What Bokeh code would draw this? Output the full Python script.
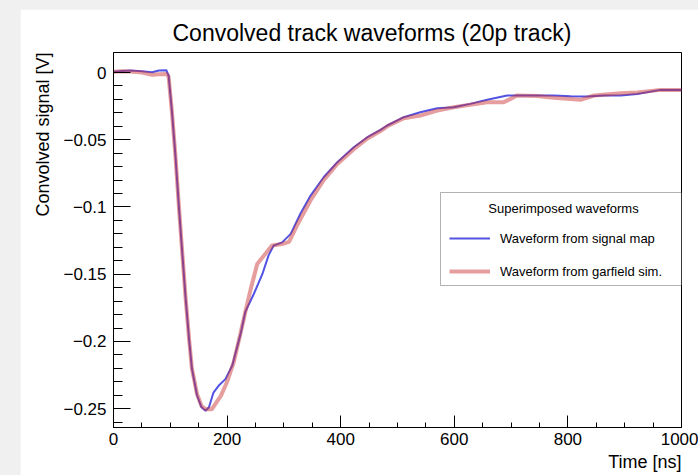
import math
from bokeh.plotting import figure
from bokeh.models import (Range1d, FixedTicker, Legend, LegendItem, Label, BoxAnnotation, Title)
from bokeh.layouts import column
from bokeh.embed import file_html
from bokeh.resources import INLINE

# ---------------- data ----------------
t_map = [0, 15, 30, 50, 68, 80, 93, 97, 103, 109, 115, 121, 127, 133, 138, 147, 155, 162,
         168, 176, 185, 197, 209, 224, 232, 247, 262, 273, 282, 297, 312, 329, 347, 370,
         394, 423, 447, 470, 482, 511, 540, 570, 599, 628, 658, 693, 716, 746, 775, 805,
         834, 863, 893, 922, 963, 1000]
v_map = [0.0005, 0.0012, 0.0015, 0.0010, 0.0002, 0.0015, 0.0017, -0.0022, -0.0295, -0.0618,
         -0.099, -0.1337, -0.168, -0.198, -0.220, -0.240, -0.249, -0.2515, -0.249, -0.238,
         -0.233, -0.228, -0.218, -0.194, -0.178, -0.1647, -0.150, -0.136, -0.1287, -0.1263,
         -0.120, -0.105, -0.0915, -0.0779, -0.0667, -0.0556, -0.0481, -0.0427, -0.0394,
         -0.0332, -0.0295, -0.0265, -0.0258, -0.0233, -0.0203, -0.0171, -0.0171, -0.0171,
         -0.0171, -0.0176, -0.0179, -0.0171, -0.0171, -0.0159, -0.0129, -0.0129]

t_garf = [0, 15, 30, 50, 68, 80, 93, 97, 103, 109, 115, 121, 127, 133, 138, 147, 155, 163,
          173, 180, 189, 200, 212, 223, 230, 241, 253, 265, 279, 297, 309, 323, 347, 370,
          394, 423, 447, 470, 482, 511, 540, 570, 599, 628, 658, 687, 699, 710, 746, 775,
          805, 822, 846, 893, 922, 963, 1000]
v_garf = [0.0005, 0.0010, 0.0008, 0.0000, -0.0017, -0.0012, -0.0010, -0.0030, -0.030, -0.062,
          -0.099, -0.1337, -0.168, -0.198, -0.220, -0.239, -0.248, -0.2505, -0.2505, -0.246,
          -0.2405, -0.2300, -0.2150, -0.195, -0.182, -0.162, -0.1424, -0.136, -0.1287,
          -0.1275, -0.126, -0.1138, -0.095, -0.080, -0.068, -0.057, -0.049, -0.0435, -0.0400,
          -0.0340, -0.032, -0.0283, -0.0258, -0.0240, -0.0221, -0.0221, -0.0196, -0.017,
          -0.0175, -0.0188, -0.0196, -0.0203, -0.0171, -0.0154, -0.0149, -0.0129, -0.0129]

x_ticks = [0, 200, 400, 600, 800, 1000]
x_tick_labels = ["0", "200", "400", "600", "800", "1000"]
x_minor = [v for v in range(0, 1001, 50)]
y_ticks = [0.0, -0.05, -0.1, -0.15, -0.2, -0.25]
y_tick_labels = ["0", "\u22120.05", "\u22120.1", "\u22120.15", "\u22120.2", "\u22120.25"]
y_minor = [round(-0.01 * i, 2) for i in range(0, 27)]

title_text = "Convolved track waveforms (20p track)"
x_title = "Time [ns]"
y_title = "Convolved signal [V]"
legend_title = "Superimposed waveforms"
legend_labels = ["Waveform from signal map", "Waveform from garfield sim."]

# ---------------- layout ----------------
FONT = "Liberation Sans"
X0, X1 = 0, 1000
Y0, Y1 = -0.264, 0.0149
FL, FR, FT, FB = 113, 681, 52, 427   # frame in page pixels
OFFX, OFFY = 20, 9                   # figure offset in page


def dx(px):
    return X0 + (px - FL) / (FR - FL) * (X1 - X0)


def dy(py):
    return Y1 - (py - FT) / (FB - FT) * (Y1 - Y0)


W, H = 698 - OFFX, 475 - OFFY
p = figure(width=W, height=H, output_backend="svg", toolbar_location=None,
           x_range=Range1d(X0, X1), y_range=Range1d(Y0, Y1), title=None,
           min_border_left=FL - OFFX, min_border_top=FT - OFFY,
           min_border_right=W - (FR - OFFX), min_border_bottom=H - (FB - OFFY))
p.margin = (OFFY, 0, 0, OFFX)
p.background_fill_color = "white"
p.border_fill_color = "white"
p.outline_line_color = "black"
p.outline_line_width = 1
p.xgrid.visible = False
p.ygrid.visible = False

for ax, ticks, minor, labels, mj, mn, so in [
        (p.xaxis[0], x_ticks, x_minor, x_tick_labels, 12, 5, 5),
        (p.yaxis[0], y_ticks, y_minor, y_tick_labels, 17, 9, 7)]:
    ax.ticker = FixedTicker(ticks=ticks, minor_ticks=minor)
    ax.major_label_overrides = {k: l for k, l in zip(ticks, labels)}
    ax.major_tick_in = mj
    ax.major_tick_out = 0
    ax.minor_tick_in = mn
    ax.minor_tick_out = 0
    ax.major_label_standoff = so
    ax.major_label_text_font = FONT
    ax.major_label_text_font_size = "17px"
    ax.major_label_text_color = "black"
    ax.axis_line_color = "black"
    ax.major_tick_line_color = "black"
    ax.minor_tick_line_color = "black"

rb = p.line(t_map, v_map, line_color="#4040e0", line_alpha=0.9, line_width=2)
rr = p.line(t_garf, v_garf, line_color="#c83232", line_alpha=0.48, line_width=4)

# legend box + title
p.add_layout(BoxAnnotation(left=dx(440), right=X1, top=dy(192), bottom=dy(285),
                           fill_color="white", fill_alpha=1.0,
                           line_color="black", line_width=1, level="underlay"))
p.add_layout(Label(x=dx(563), y=dy(208), text=legend_title, text_align="center",
                   text_baseline="middle", text_font=FONT, text_font_size="13px",
                   text_color="black"))
leg = Legend(items=[LegendItem(label=legend_labels[0], renderers=[rb]),
                    LegendItem(label=legend_labels[1], renderers=[rr])],
             location=(449 - FL, FB - 281), padding=0, margin=0,
             glyph_width=41, glyph_height=20, label_height=20, label_standoff=10,
             spacing=13, border_line_alpha=0, background_fill_alpha=0,
             label_text_font=FONT, label_text_font_size="13px", label_text_color="black")
p.add_layout(leg)

# titles (side panels)
p.add_layout(Title(text=title_text, align="left", offset=172 - FL, standoff=14,
                   text_font=FONT, text_font_size="23px", text_font_style="normal",
                   text_color="black"), "above")
p.add_layout(Title(text=y_title, align="right", standoff=15,
                   text_font=FONT, text_font_size="18px", text_font_style="normal",
                   text_color="black"), "left")
p.add_layout(Title(text=x_title, align="right", standoff=4,
                   text_font=FONT, text_font_size="18px", text_font_style="normal",
                   text_color="black"), "below")

lay = column(p, styles={"background-color": "#f0f0f0"})
open("out.html", "w").write(file_html(lay, INLINE))
